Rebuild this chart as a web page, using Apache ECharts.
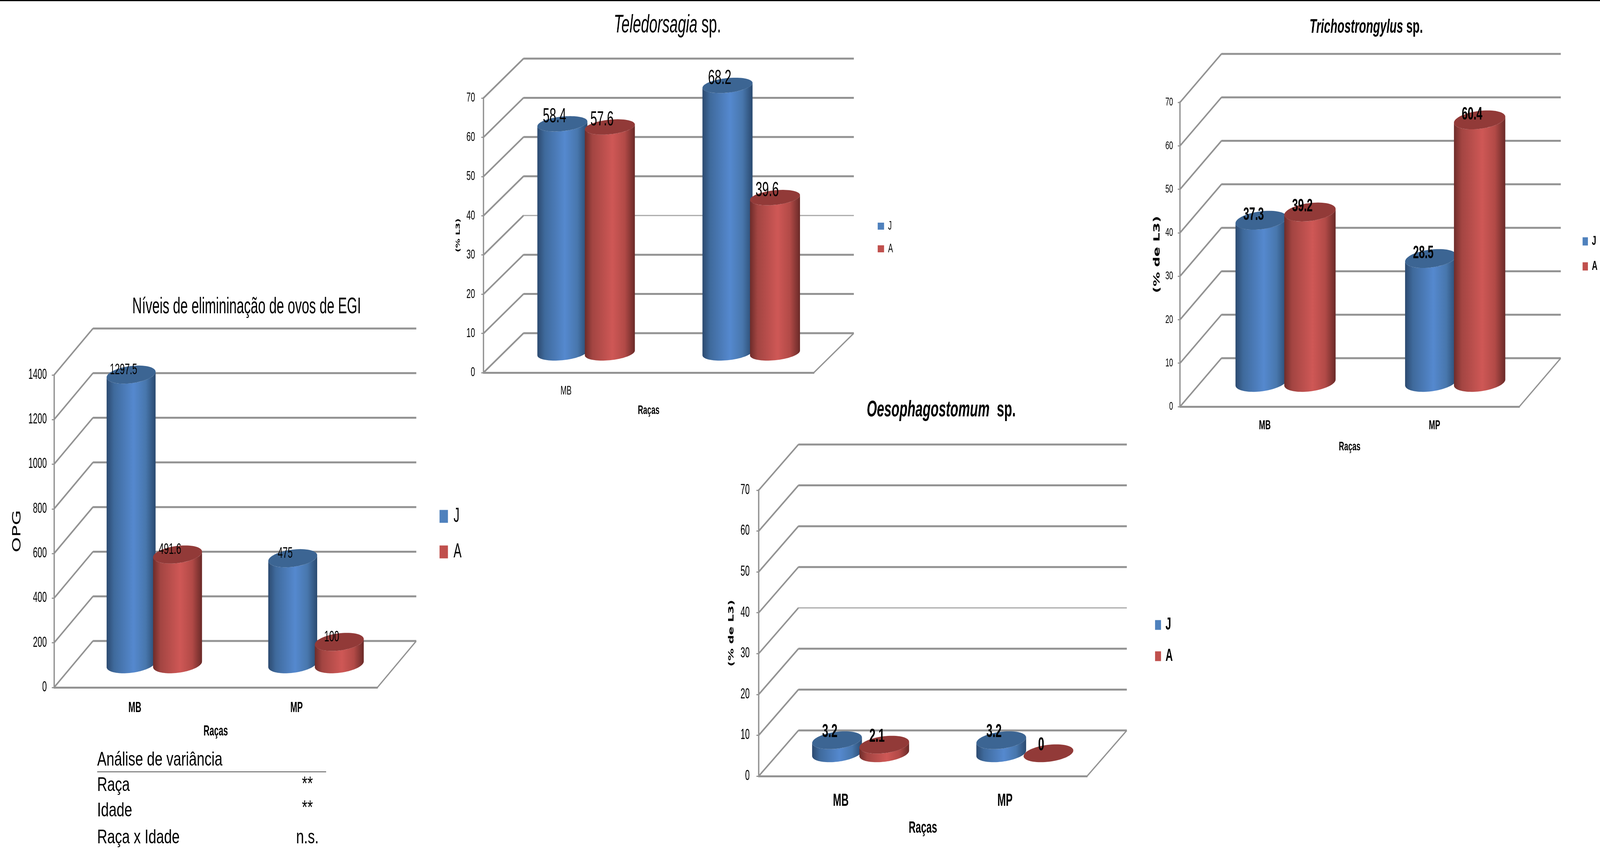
<!DOCTYPE html>
<html><head><meta charset="utf-8">
<style>html,body{margin:0;padding:0;background:#fff;overflow:hidden}#c{transform-origin:0 0}</style>
<script src="https://cdn.jsdelivr.net/npm/echarts@6/dist/echarts.min.js"></script>
</head><body><div id="c"></div>
<script>
const categories = ['MB', 'MP'];
const telCategories = ['MB', ''];
const egiTicks = [0, 200, 400, 600, 800, 1000, 1200, 1400];
const pctTicks = [0, 10, 20, 30, 40, 50, 60, 70];
const egiJ = [1297.5, 475];
const egiA = [491.6, 100];
const telJ = [58.4, 68.2];
const telA = [57.6, 39.6];
const triJ = [37.3, 28.5];
const triA = [39.2, 60.4];
const oesJ = [3.2, 3.2];
const oesA = [2.1, 0];
const anovaRows = ['Raça', 'Idade', 'Raça x Idade'];
const anovaMarks = ['**', '**', 'n.s.'];

// The chart is laid out on a wider canvas and squeezed horizontally to fit the window;
// K also gives the narrow lettering of the reference.
const DESIGN_W = 5716, DESIGN_H = 2171, K = 0.82;
const CANVAS_W = DESIGN_W / K;
const X = v => v / K;
const box = document.getElementById('c');
box.style.width = CANVAS_W + 'px';
box.style.height = DESIGN_H + 'px';
box.style.transform = 'scale(' + (window.innerWidth / CANVAS_W) + ',' + (window.innerHeight / DESIGN_H) + ')';

const FONT = '"Liberation Sans",sans-serif';
const GRID = '#939393';
const PAL = {
  J: { solid: '#4f81bd', top: '#3c6593', stops: ['#2c4a70', '#3f6a9c', '#5589cf', '#4877ad', '#2a4a70'] },
  A: { solid: '#c0504d', top: '#923a38', stops: ['#6e2c2a', '#a34542', '#cf5856', '#b24a47', '#6a2a28'] }
};
const panels = [
  { cats: categories, ticks: egiTicks, max: 1400, step: 200, J: egiJ, A: egiA,
    x0: 193, x1: 1348, yTop: 960, yBot: 1760, dx: 139, dy: -119,
    tickFont: 36, tickMargin: 26, catFont: 36, catBold: 'bold', catMargin: 35,
    xName: 'Raças', xNameFont: 36, xNameGap: 95,
    yName: 'OPG', yNameFamily: '"DejaVu Sans"', yNameWeight: 'normal', yNameFont: 50, yNameGap: 110,
    valFont: 39, valWeight: 'normal', lx: -27, ly: -12,
    legend: { left: 1570, top: 1296, w: 30, h: 33, gap: 39, font: 52, weight: 'normal', pad: 16 },
    title: { x: 881, y: 786, size: 58, parts: [['n', 'Níveis de elimininação de ovos de EGI']] } },
  { cats: telCategories, ticks: pctTicks, max: 70, step: 10, J: telJ, A: telA,
    x0: 1727, x1: 2907, yTop: 251, yBot: 954, dx: 143, dy: -101,
    tickFont: 34, tickMargin: 30, catFont: 32, catBold: 'normal', catMargin: 31,
    xName: 'Raças', xNameFont: 32, xNameGap: 81,
    yName: '(% L3)', yNameFamily: '"DejaVu Sans"', yNameWeight: 'bold', yNameFont: 24, yNameGap: 80,
    valFont: 52, valWeight: 'normal', lx: -28, ly: -18, thin: [30],
    legend: { left: 3135, top: 563, w: 23, h: 18, gap: 26, font: 32, weight: 'normal', pad: 10 },
    title: { x: 2384, y: 65, size: 64, parts: [['i', 'Teledorsagia'], ['n', ' sp.']] } },
  { cats: categories, ticks: pctTicks, max: 70, step: 10, J: triJ, A: triA,
    x0: 4215, x1: 5427, yTop: 262, yBot: 1041, dx: 148, dy: -124,
    tickFont: 30, tickMargin: 25, catFont: 33, catBold: 'bold', catMargin: 32,
    xName: 'Raças', xNameFont: 32, xNameGap: 87,
    yName: '(% de L3)', yNameFamily: '"DejaVu Sans"', yNameWeight: 'bold', yNameFont: 37, yNameGap: 66,
    valFont: 46, valWeight: 'bold', lx: -27, ly: -14,
    legend: { left: 5653, top: 601, w: 19, h: 21, gap: 30, font: 34, weight: 'bold', pad: 10 },
    title: { x: 4880, y: 70, size: 50, parts: [['ib', 'Trichostrongylus'], ['b', ' sp.']] } },
  { cats: categories, ticks: pctTicks, max: 70, step: 10, J: oesJ, A: oesA,
    x0: 2710, x1: 3883, yTop: 1255, yBot: 1987, dx: 142, dy: -117,
    tickFont: 36, tickMargin: 32, catFont: 44, catBold: 'bold', catMargin: 42,
    xName: 'Raças', xNameFont: 42, xNameGap: 112,
    yName: '(% de L3)', yNameFamily: '"DejaVu Sans"', yNameWeight: 'bold', yNameFont: 32, yNameGap: 84,
    valFont: 48, valWeight: 'bold', lx: -26, ly: -21, thin: [30],
    legend: { left: 4126, top: 1578, w: 21, h: 25, gap: 36, font: 44, weight: 'bold', pad: 12 },
    title: { x: 3362, y: 1050, size: 57, parts: [['ib', 'Oesophagostomum'], ['b', '  sp.']] } }
];

const DEPTH = 0.39, STEP = 0.2875, WIDTH = 0.303;

function wallRenderer(p) {
  const dx = X(p.dx);
  return function (params, api) {
    const v = api.value(0), cs = params.coordSys;
    const y = api.coord([0, v])[1], x = cs.x, r = cs.x + cs.width;
    const thin = (p.thin || []).indexOf(v) >= 0;
    const normal = { stroke: GRID, lineWidth: 5, fill: null };
    const back = thin ? { stroke: '#a8a8a8', lineWidth: 3, fill: null } : normal;
    const kids = [
      { type: 'line', shape: { x1: x, y1: y, x2: x + dx, y2: y + p.dy }, style: normal },
      { type: 'line', shape: { x1: x + dx, y1: y + p.dy, x2: r + dx, y2: y + p.dy }, style: back }
    ];
    if (v === 0) kids.push({ type: 'line', shape: { x1: r, y1: y, x2: r + dx, y2: y + p.dy }, style: { stroke: GRID, lineWidth: 4 } });
    return { type: 'group', children: kids };
  };
}
function ring(cx, cy, r, a, b, t0, t1, n) {
  const pts = [];
  for (let i = 0; i <= n; i++) {
    const t = t0 + (t1 - t0) * i / n;
    pts.push([cx + r * Math.cos(t) + a * Math.sin(t), cy - b * Math.sin(t)]);
  }
  return pts;
}
function barRenderer(p, key, side) {
  const pal = PAL[key], dx = X(p.dx);
  return function (params, api) {
    const i = api.value(0), v = api.value(1);
    const top = api.coord([i, v]), base = api.coord([i, 0]);
    const band = api.size([1, 0])[0];
    const half = band * WIDTH / 2;
    const a = dx * DEPTH / 2, b = -p.dy * DEPTH / 2;
    const r = Math.sqrt(Math.max(half * half - a * a, 1));
    const cx = top[0] + dx / 2 + side * band * STEP / 2;
    const cyT = top[1] + p.dy / 2, cyB = base[1] + p.dy / 2;
    const t0 = Math.atan2(a, r);
    const N = 48;
    const kids = [];
    if (v > 0) {
      const lower = ring(cx, cyB, r, a, b, t0 - Math.PI, t0, N);
      const upper = ring(cx, cyT, r, a, b, t0, t0 - Math.PI, N);
      kids.push({ type: 'polygon', shape: { points: lower.concat(upper) }, style: {
        fill: new echarts.graphic.LinearGradient(0, 0, 1, 0, [
          { offset: 0, color: pal.stops[0] }, { offset: 0.15, color: pal.stops[1] },
          { offset: 0.55, color: pal.stops[2] }, { offset: 0.8, color: pal.stops[3] },
          { offset: 1, color: pal.stops[4] }]) } });
    }
    kids.push({ type: 'polygon', shape: { points: ring(cx, cyT, r, a, b, 0, Math.PI * 2, 72) }, style: { fill: pal.top } });
    return { type: 'group', children: kids };
  };
}
function labelRenderer(p, side) {
  const dx = X(p.dx), lx = X(p.lx);
  return function (params, api) {
    const i = api.value(0), v = api.value(1);
    const top = api.coord([i, v]);
    const band = api.size([1, 0])[0];
    return { type: 'text', style: {
      x: top[0] + dx / 2 + side * band * STEP / 2 + lx,
      y: top[1] + p.dy / 2 + p.ly,
      text: String(v), textAlign: 'center', textVerticalAlign: 'middle',
      fill: '#000', font: p.valWeight + ' ' + p.valFont + 'px ' + FONT } };
  };
}

const option = { animation: false, backgroundColor: '#fff', grid: [], xAxis: [], yAxis: [], series: [], legend: [], title: [],
  graphic: { elements: [] } };

panels.forEach((p, k) => {
  option.grid.push({ left: X(p.x0), top: p.yTop, width: X(p.x1 - p.x0), height: p.yBot - p.yTop, containLabel: false });
  option.xAxis.push({ type: 'category', gridIndex: k, data: p.cats,
    axisLine: { show: true, lineStyle: { color: GRID, width: 5 } }, axisTick: { show: false }, splitLine: { show: false },
    axisLabel: { color: '#000', fontFamily: FONT, fontSize: p.catFont, fontWeight: p.catBold, margin: p.catMargin, interval: 0 },
    name: p.xName, nameLocation: 'middle', nameGap: p.xNameGap,
    nameTextStyle: { color: '#000', fontFamily: FONT, fontSize: p.xNameFont, fontWeight: 'bold' } });
  option.yAxis.push({ type: 'value', gridIndex: k, min: 0, max: p.max, interval: p.step,
    axisLine: { show: true, lineStyle: { color: GRID, width: 6 } },
    axisTick: { show: true, length: X(8), lineStyle: { color: GRID, width: 3 } }, splitLine: { show: false },
    axisLabel: { color: '#000', fontFamily: FONT, fontSize: p.tickFont, margin: X(p.tickMargin), formatter: v => String(v) },
    name: p.yName, nameLocation: 'middle', nameGap: X(p.yNameGap), nameRotate: 90,
    nameTextStyle: { color: '#000', fontFamily: p.yNameFamily, fontSize: p.yNameFont, fontWeight: p.yNameWeight } });
  option.series.push({ type: 'custom', name: 'wall' + k, xAxisIndex: k, yAxisIndex: k, z: 1, silent: true,
    renderItem: wallRenderer(p), data: p.ticks.map(v => [v]), encode: { y: 0 } });
  [['J', -1], ['A', 1]].forEach(([key, side], s) => {
    option.series.push({ type: 'custom', name: key, xAxisIndex: k, yAxisIndex: k, z: 3 + s, silent: true,
      itemStyle: { color: PAL[key].solid }, renderItem: barRenderer(p, key, side),
      data: p[key].map((v, i) => [i, v]), encode: { x: 0, y: 1 } });
    option.series.push({ type: 'custom', name: 'label' + key + k, xAxisIndex: k, yAxisIndex: k, z: 6, silent: true,
      renderItem: labelRenderer(p, side), data: p[key].map((v, i) => [i, v]), encode: { x: 0, y: 1 } });
  });
  const l = p.legend;
  option.legend.push({ data: ['J', 'A'], orient: 'vertical', left: X(l.left), top: l.top, padding: 0, icon: 'rect', selectedMode: false,
    itemWidth: X(l.w), itemHeight: l.h, itemGap: l.gap,
    textStyle: { color: '#000', fontFamily: FONT, fontSize: l.font, fontWeight: l.weight, padding: [0, 0, 0, X(l.pad)] } });
  const t = p.title, rich = {
    n: { fontFamily: FONT, fontSize: t.size, color: '#000', fontWeight: 'normal' },
    i: { fontFamily: FONT, fontSize: t.size, color: '#000', fontStyle: 'italic', fontWeight: 'normal' },
    b: { fontFamily: FONT, fontSize: t.size, color: '#000', fontWeight: 'bold' },
    ib: { fontFamily: FONT, fontSize: t.size, color: '#000', fontStyle: 'italic', fontWeight: 'bold' } };
  option.title.push({ text: t.parts.map(([s, x]) => '{' + s + '|' + x + '}').join(''), left: X(t.x), top: t.y - t.size * 0.5, padding: 0, textAlign: 'center',
    textStyle: { rich, fontSize: t.size } });
});

const TF = '50px "Liberation Sans",sans-serif';
const el = option.graphic.elements;
el.push({ type: 'rect', shape: { x: 0, y: 0, width: CANVAS_W, height: 3 }, style: { fill: '#000' } });
el.push({ type: 'text', x: X(347), y: 1946, scaleX: 1 / K, style: { text: 'Análise de variância', font: TF, fill: '#000', textVerticalAlign: 'middle' } });
el.push({ type: 'line', shape: { x1: X(347), y1: 1976, x2: X(1165), y2: 1976 }, style: { stroke: '#555', lineWidth: 2 } });
const rowY = [2011, 2076, 2145], markY = [2009, 2070, 2145];
anovaRows.forEach((s, i) => {
  el.push({ type: 'text', x: X(347), y: rowY[i], scaleX: 1 / K, style: { text: s, font: TF, fill: '#000', textVerticalAlign: 'middle' } });
  el.push({ type: 'text', x: X(1098), y: markY[i], scaleX: 1 / K, style: { text: anovaMarks[i], font: TF, fill: '#000', textAlign: 'center', textVerticalAlign: 'middle' } });
});
const chart = echarts.init(box, null, { width: CANVAS_W, height: DESIGN_H, renderer: 'canvas' });
chart.setOption(option);
</script></body></html>
